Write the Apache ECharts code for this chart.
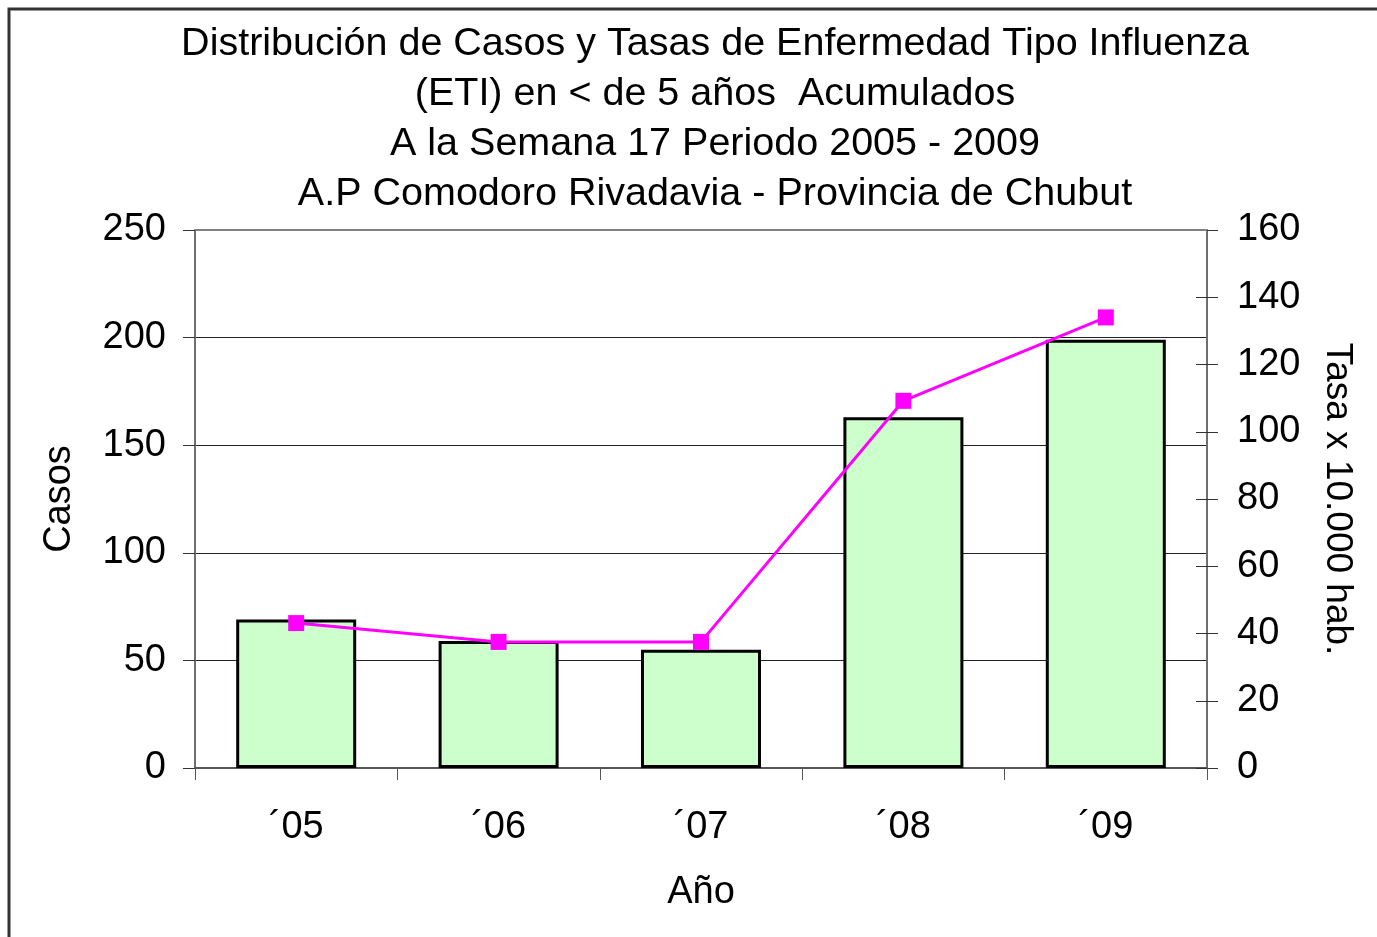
<!DOCTYPE html>
<html>
<head>
<meta charset="utf-8">
<script src="https://cdn.jsdelivr.net/npm/echarts@6/dist/echarts.min.js"></script>
<style>
  html, body { margin: 0; padding: 0; background: #ffffff; }
  #chart { width: 1377px; height: 937px; }
</style>
</head>
<body>
<div id="chart"></div>
<script>
// Años (categorías del eje X)
var years = ['\u00b405', '\u00b406', '\u00b407', '\u00b408', '\u00b409'];
// Casos acumulados de ETI en menores de 5 años
var casos = [69, 59, 55, 163, 199];
// Tasa por 10.000 habitantes
var tasas = [43.1, 37.5, 37.5, 109.2, 134.0];

var titleLines = [
  'Distribución de Casos y Tasas de Enfermedad Tipo Influenza',
  '(ETI) en < de 5 años  Acumulados',
  'A la Semana 17 Periodo 2005 - 2009',
  'A.P Comodoro Rivadavia - Provincia de Chubut'
];

var FONT = '"Liberation Sans", Arial, sans-serif';
var FS = 38;
var AXIS_GRAY = '#6e6e6e';

var chart = echarts.init(document.getElementById('chart'));

chart.setOption({
  backgroundColor: '#ffffff',
  animation: false,
  textStyle: { fontFamily: FONT, color: '#000' },
  title: {
    text: titleLines.join('\n'),
    left: 715,
    textAlign: 'center',
    top: 19,
    padding: 0,
    textStyle: {
      fontFamily: FONT,
      fontSize: 39.5,
      fontWeight: 'normal',
      lineHeight: 50,
      color: '#000'
    }
  },
  graphic: [{
    type: 'rect',
    shape: { x: 9, y: 9, width: 1420, height: 980 },
    style: { fill: 'none', stroke: '#333', lineWidth: 3 },
    silent: true,
    z: -10
  }],
  grid: { left: 195, right: 170, top: 230, bottom: 169, containLabel: false },
  xAxis: {
    type: 'category',
    data: years,
    name: 'Año',
    nameLocation: 'middle',
    nameGap: 106,
    nameTextStyle: { fontFamily: FONT, fontSize: FS, color: '#000', verticalAlign: 'top', lineHeight: FS },
    axisLine: { show: true, lineStyle: { color: '#555', width: 2 } },
    axisTick: { show: true, inside: false, length: 12, alignWithLabel: false, lineStyle: { color: '#555', width: 1 } },
    axisLabel: { fontFamily: FONT, fontSize: FS, color: '#000', margin: 41, lineHeight: FS },
    splitLine: { show: false }
  },
  yAxis: [{
    type: 'value',
    min: 0,
    max: 250,
    interval: 50,
    position: 'left',
    name: 'Casos',
    nameLocation: 'middle',
    nameGap: 116,
    nameRotate: 90,
    nameTextStyle: { fontFamily: FONT, fontSize: FS, color: '#000' },
    axisLine: { show: true, lineStyle: { color: AXIS_GRAY, width: 2 } },
    axisTick: { show: true, inside: false, length: 12, lineStyle: { color: '#333', width: 1 } },
    axisLabel: { fontFamily: FONT, fontSize: FS, color: '#000', margin: 29 },
    splitLine: { show: true, lineStyle: { color: '#222', width: 1 } }
  }, {
    type: 'value',
    min: 0,
    max: 160,
    interval: 20,
    position: 'right',
    name: 'Tasa x 10.000 hab.',
    nameLocation: 'middle',
    nameGap: 112,
    nameRotate: -90,
    nameTextStyle: { fontFamily: FONT, fontSize: 37, color: '#000' },
    axisLine: { show: true, lineStyle: { color: AXIS_GRAY, width: 2 } },
    axisTick: { show: true, inside: false, length: 11, lineStyle: { color: '#333', width: 1 } },
    axisLabel: { fontFamily: FONT, fontSize: FS, color: '#000', margin: 30 },
    splitLine: { show: false }
  }, {
    // inner half of the crossing ticks on the right axis
    type: 'value',
    min: 0,
    max: 160,
    interval: 20,
    position: 'right',
    axisLine: { show: false },
    axisTick: { show: true, inside: true, length: 11, lineStyle: { color: '#333', width: 1 } },
    axisLabel: { show: false },
    splitLine: { show: false }
  }],
  series: [{
    name: 'Casos',
    type: 'bar',
    yAxisIndex: 0,
    data: casos,
    barWidth: 120,
    itemStyle: { color: '#CCFFCC', borderColor: '#000', borderWidth: 3 },
    z: 2
  }, {
    name: 'Tasa',
    type: 'line',
    yAxisIndex: 1,
    data: tasas,
    symbol: 'rect',
    symbolSize: 16,
    lineStyle: { color: '#FF00FF', width: 3 },
    itemStyle: { color: '#FF00FF' },
    z: 5
  }, {
    // top border of the plot area
    type: 'line',
    yAxisIndex: 0,
    data: [],
    markLine: {
      silent: true,
      symbol: 'none',
      label: { show: false },
      lineStyle: { color: '#808080', width: 2, type: 'solid' },
      data: [{ yAxis: 250 }]
    }
  }]
});
</script>
</body>
</html>
